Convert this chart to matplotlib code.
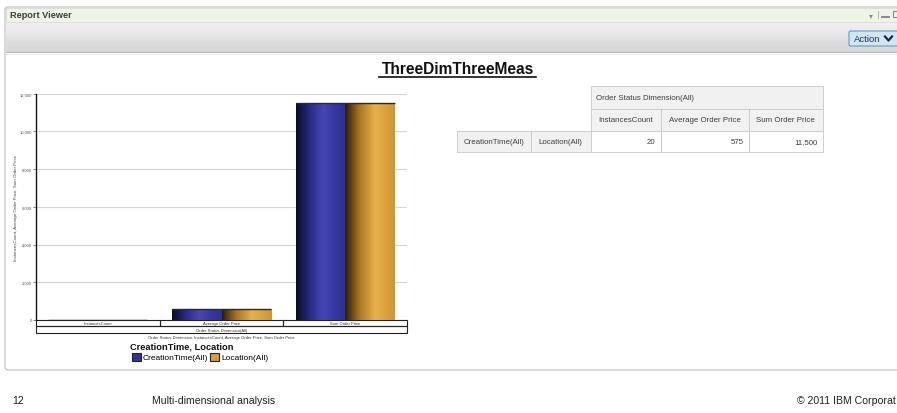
import numpy as np
import matplotlib
matplotlib.use('Agg')
import matplotlib.pyplot as plt
from matplotlib.patches import Rectangle, FancyBboxPatch, Patch
from matplotlib.colors import LinearSegmentedColormap

plt.rcParams['font.family'] = ['Liberation Sans', 'DejaVu Sans']

# data
measures = ['InstancesCount', 'Average Order Price', 'Sum Order Price']
series_names = ['CreationTime(All)', 'Location(All)']
creation_vals = [20, 575, 11500]
location_vals = [20, 575, 11500]
y_ticks = [0, 2000, 4000, 6000, 8000, 10000, 12000]
row_labels = ['CreationTime(All)', 'Location(All)']
table_vals = [20, 575, 11500]

W, H = 897, 414
fig = plt.figure(figsize=(W / 100, H / 100), dpi=100)

# overlay axes in pixel coordinates for the page / viewer chrome
ov = fig.add_axes([0, 0, 1, 1])
ov.axis('off')


def pax(l, t, r, b):
    return [l / W, 1 - b / H, (r - l) / W, (b - t) / H]


# viewer frame
ov.add_patch(FancyBboxPatch((5, 8), 905, 363, boxstyle='round,pad=0,rounding_size=3',
                            fc='white', ec='#c9c9c9', lw=1, zorder=0))
# header bar
ov.add_patch(Rectangle((5.5, 8.5), 900, 14, fc='#eef5e6', ec='#d6ddcf', lw=0.6, zorder=1))
ov.text(10, 15.5, 'Report Viewer', fontsize=6.6, weight='bold', color='#3c3c3c',
        ha='left', va='center', zorder=2)
ov.text(871, 15.5, '\u25be', fontsize=5.5, color='#8a8a8a', ha='center', va='center',
        family=['DejaVu Sans'], zorder=2)
ov.plot([878, 878], [12, 19], color='#b0b0b0', lw=0.6, zorder=2)
ov.plot([882, 889], [17.5, 17.5], color='#8a8a8a', lw=1.4, zorder=2)
ov.add_patch(Rectangle((893, 12), 5, 6, fc='none', ec='#8a8a8a', lw=0.8, zorder=2))

# toolbar gradient
tb = LinearSegmentedColormap.from_list('tb', ['#f1eef3', '#ebe9ec', '#dddcdd', '#d8d8d8'])
ov.imshow(np.linspace(0, 1, 64).reshape(-1, 1), cmap=tb, extent=[6, 897, 52.5, 23.5],
          aspect='auto', zorder=1)
ov.plot([6, 897], [53, 53], color='#bdbdbd', lw=0.8, zorder=2)
ov.plot([6, 897], [55, 55], color='#e6e6e6', lw=0.6, zorder=2)

# Action button
ov.add_patch(FancyBboxPatch((849, 32), 52, 15, boxstyle='round,pad=0,rounding_size=1.5',
                            fc='#cfe6f5', ec='#5e9cc9', lw=0.8, zorder=3))
ov.text(854, 40, 'Action', fontsize=6.8, color='#1d3550', ha='left', va='center', zorder=4)
ov.plot([885, 888.5, 892], [37.5, 41.5, 37.5], color='#16283d', lw=1.6, zorder=4)

# title
ov.text(457.5, 69, 'ThreeDimThreeMeas', fontsize=11.2, weight='bold', color='#111111',
        ha='center', va='center', zorder=4)
ov.plot([379, 536], [77.6, 77.6], color='#111111', lw=1.2, zorder=4)

# crosstab table
col_edges = [456.7, 530.5, 590.5, 660.7, 749.0, 822.7]
row_edges = [87.0, 109.5, 131.5, 153.0]
hdr_bg = '#f1f1f1'
grid_c = '#cdcdcd'
txt_c = '#3f3f3f'
fs_t = 5.7


def cell(x0, x1, y0, y1, fc):
    ov.add_patch(Rectangle((x0, y0), x1 - x0, y1 - y0, fc=fc, ec=grid_c, lw=0.7, zorder=3))


cell(col_edges[2], col_edges[5], row_edges[0], row_edges[1], hdr_bg)
ov.text(col_edges[2] + 5, (row_edges[0] + row_edges[1]) / 2, 'Order Status Dimension(All)',
        fontsize=fs_t, color=txt_c, ha='left', va='center', zorder=4)
for i, m in enumerate(measures):
    x0, x1 = col_edges[2 + i], col_edges[3 + i]
    cell(x0, x1, row_edges[1], row_edges[2], hdr_bg)
    ov.text((x0 + x1) / 2, (row_edges[1] + row_edges[2]) / 2, m, fontsize=fs_t,
            color=txt_c, ha='center', va='center', zorder=4)
for i, r in enumerate(row_labels):
    x0, x1 = col_edges[i], col_edges[i + 1]
    cell(x0, x1, row_edges[2], row_edges[3], hdr_bg)
    ov.text((x0 + x1) / 2, (row_edges[2] + row_edges[3]) / 2, r, fontsize=fs_t,
            color=txt_c, ha='center', va='center', zorder=4)
for i, v in enumerate(table_vals):
    x0, x1 = col_edges[2 + i], col_edges[3 + i]
    cell(x0, x1, row_edges[2], row_edges[3], 'white')
    ov.text(x1 - 5, (row_edges[2] + row_edges[3]) / 2, f'{v:,}', fontsize=fs_t,
            color=txt_c, ha='right', va='center', zorder=4)

# legend title
ov.text(181.5, 347, 'CreationTime, Location', fontsize=6.7, weight='bold', color='#111111',
        ha='center', va='center', zorder=4)

# footer (copyright is cut at the page edge in the original)
ov.text(12, 401, '12', fontsize=7.6, color='#222222', ha='left', va='center')
ov.text(152, 401, 'Multi-dimensional analysis', fontsize=7.6, color='#222222', ha='left', va='center')
ov.text(896, 401, '\u00a9 2011 IBM Corporat', fontsize=7.6, color='#222222', ha='right', va='center')

ov.set_xlim(0, W)
ov.set_ylim(H, 0)

# chart
ax = fig.add_axes(pax(36, 94.7, 407, 320.9))
ax.set_facecolor('none')
ax.set_axisbelow(True)

blue_cm = LinearSegmentedColormap.from_list('bl', [(0, '#0b0b24'), (0.28, '#2a2a8a'),
                                                   (0.55, '#4747b3'), (0.78, '#3737a3'),
                                                   (1, '#2f2f97')])
orange_cm = LinearSegmentedColormap.from_list('or', [(0, '#2a1c08'), (0.28, '#a67320'),
                                                     (0.6, '#e9b14b'), (0.82, '#d9a23d'),
                                                     (1, '#cc9631')])
grad = np.linspace(0, 1, 256).reshape(1, -1)

x = np.arange(len(measures))
w = 0.4
b1 = ax.bar(x - w / 2, creation_vals, w, color='#3030a0', lw=0, zorder=2)
b2 = ax.bar(x + w / 2, location_vals, w, color='#d8a030', lw=0, zorder=2)
for bars, cm in ((b1, blue_cm), (b2, orange_cm)):
    for p in bars:
        x0, h = p.get_x(), p.get_height()
        im = ax.imshow(grad, cmap=cm, extent=[x0, x0 + p.get_width(), 0, h],
                       aspect='auto', zorder=1.9, interpolation='bilinear')
        im.set_clip_path(p)
        p.set_facecolor('none')
# dark top edge of each bar
ax.hlines(creation_vals, x - w, x, color='#2a2a2a', lw=1.0, zorder=3)
ax.hlines(location_vals, x, x + w, color='#2a2a2a', lw=1.0, zorder=3)

ax.set_xlim(-0.5, 2.5)
ax.set_ylim(0, 12000)
ax.set_yticks(y_ticks)
ax.set_yticklabels([f'{v:,}' for v in y_ticks])
ax.set_xticks([])
ax.tick_params(axis='y', labelsize=3, colors='#555555', length=2, width=0.5, pad=1)
ax.yaxis.grid(True, color='#d6d6d6', lw=0.8)
for s in ('top', 'right', 'bottom'):
    ax.spines[s].set_visible(False)
ax.spines['left'].set_color('#111111')
ax.spines['left'].set_linewidth(1.0)
ax.set_ylabel('InstancesCount, Average Order Price, Sum Order Price', fontsize=3.2, color='#444444')
ax.yaxis.set_label_coords(-18 / 371, 0.5)

# category label boxes under the plot
trans = ax.get_xaxis_transform()
r1 = 6 / 226.2
r2 = 13.4 / 226.2
for i, m in enumerate(measures):
    ax.add_patch(Rectangle((i - 0.5, -r1), 1, r1, transform=trans, fill=False,
                           ec='#222222', lw=0.8, clip_on=False))
    ax.text(i, -r1 / 2, m, transform=trans, fontsize=3, color='#333333',
            ha='center', va='center', clip_on=False)
ax.add_patch(Rectangle((-0.5, -r2), 3, r2 - r1, transform=trans, fill=False,
                       ec='#222222', lw=0.8, clip_on=False))
ax.text(1, -(r1 + r2) / 2, 'Order Status Dimension(All)', transform=trans, fontsize=3,
        color='#333333', ha='center', va='center', clip_on=False)
ax.text(1, -(338 - 320.9) / 226.2, 'Order Status Dimension, ' + ', '.join(measures),
        transform=trans, fontsize=3, color='#333333', ha='center', va='center', clip_on=False)

handles = [Patch(fc=c, ec='#222222', lw=0.8) for c in ('#3232a2', '#d8a032')]
ax.legend(handles, series_names, loc='upper left', bbox_to_anchor=(131.5, 353.5),
          bbox_transform=ov.transData, ncol=2, frameon=False, fontsize=6,
          handlelength=1.1, handleheight=1.1, handletextpad=0.25, columnspacing=0.25,
          borderpad=0, borderaxespad=0)

fig.savefig('out.png', dpi=100)
